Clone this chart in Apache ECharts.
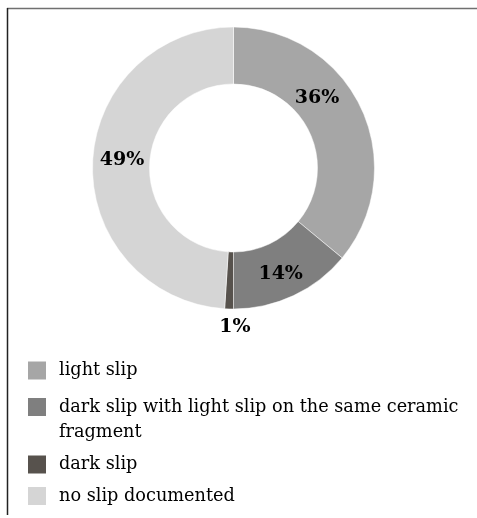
<!DOCTYPE html>
<html>
<head>
<meta charset="utf-8">
<script src="https://cdn.jsdelivr.net/npm/echarts@6/dist/echarts.min.js"></script>
<style>
html,body{margin:0;padding:0;background:#fff;}
#chart{width:477px;height:518px;}
</style>
</head>
<body>
<div id="chart"></div>
<script>
const categories = ['light slip', 'dark slip with light slip on the same ceramic fragment', 'dark slip', 'no slip documented'];
const values = [36, 14, 1, 49];

const colors = ['#a6a6a6', '#7f7f7f', '#57524d', '#d5d5d5'];
const labelOffsets = [[-21, -21], [-2, 2], [5, 44], [4, -4]];
const legendTops = [358, 369.5, 452, 483.5];

const chart = echarts.init(document.getElementById('chart'), null, {renderer: 'canvas'});

const legendFont = {
  fontFamily: 'DejaVu Serif',
  fontSize: 17.7,
  color: '#000',
  lineHeight: 25,
  padding: [0, 0, 0, 7]
};

const legends = categories.map((name, i) => ({
  data: [{name: name, itemStyle: {color: colors[i]}}],
  orient: 'vertical',
  left: 26,
  top: legendTops[i],
  padding: 0,
  itemWidth: 20,
  itemHeight: 20,
  icon: 'rect',
  selectedMode: false,
  formatter: i === 1 ? (n => ' \n' + n.replace(' fragment', '\nfragment')) : '{name}',
  textStyle: legendFont
}));

chart.setOption({
  animation: false,
  backgroundColor: '#fff',
  legend: legends,
  graphic: [
    {type: 'line', shape: {x1: 7, y1: 8.5, x2: 477, y2: 8.5}, style: {stroke: '#707070', lineWidth: 1.5}},
    {type: 'line', shape: {x1: 7.5, y1: 8, x2: 7.5, y2: 515}, style: {stroke: '#222', lineWidth: 1.5}}
  ],
  series: [{
    type: 'pie',
    center: [233.5, 168],
    radius: [84, 141],
    startAngle: 90,
    clockwise: true,
    avoidLabelOverlap: false,
    itemStyle: {borderColor: '#ffffff', borderWidth: 0.5},
    label: {
      show: true,
      position: 'inside',
      formatter: '{c}%',
      fontFamily: 'DejaVu Serif',
      fontWeight: 'bold',
      fontSize: 19,
      color: '#000'
    },
    labelLine: {show: false},
    emphasis: {disabled: true},
    data: categories.map((name, i) => ({
      name: name,
      value: values[i],
      itemStyle: {color: colors[i]},
      label: {offset: labelOffsets[i]}
    }))
  }]
});
</script>
</body>
</html>
